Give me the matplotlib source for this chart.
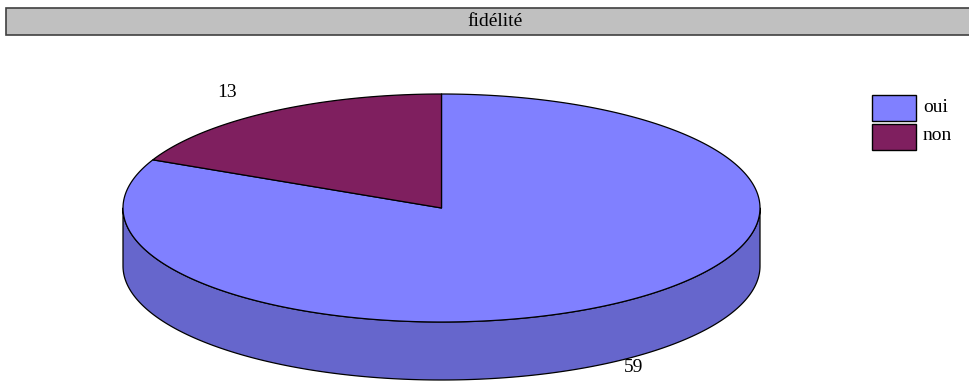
import numpy as np
import matplotlib
matplotlib.use("Agg")
import matplotlib.pyplot as plt
from matplotlib.patches import Polygon, Rectangle

title = "fidélité"
categories = ["oui", "non"]
values = [59, 13]
colors = ["#8080FF", "#7F1F5F"]
side_colors = ["#6666CC", "#5F174A"]

plt.rcParams['font.family'] = ['Liberation Serif', 'DejaVu Serif']

W, H = 970, 383
fig = plt.figure(figsize=(W/100, H/100), dpi=100)
ax = fig.add_axes([0, 0, 1, 1])
ax.set_xlim(0, W)
ax.set_ylim(H, 0)
ax.axis('off')

FS = 14

# title bar
ax.add_patch(Rectangle((6, 7.5), 970, 27.5, facecolor="#C0C0C0", edgecolor="#404040", lw=1.2))
ax.text(495.5, 21, title, ha='center', va='center', fontsize=FS)

cx, cy, rx, ry, depth = 441.5, 208, 318.5, 114, 58

def pt(a_deg, dz=0):
    a = np.deg2rad(a_deg)
    return cx + rx*np.cos(a), cy - ry*np.sin(a) + dz

total = sum(values)
spans = [v/total*360 for v in values]
starts = {1: 90.0, 0: 90.0 + spans[1]}

# side (front half only: angles 180..360)
for i in [0, 1]:
    a0 = starts[i]; a1 = a0 + spans[i]
    lo = max(a0, 180); hi = min(a1, 360)
    if hi > lo:
        aa = np.linspace(lo, hi, 200)
        top = [pt(a) for a in aa]
        bot = [pt(a, depth) for a in aa[::-1]]
        ax.add_patch(Polygon(top + bot, closed=True, facecolor=side_colors[i],
                             edgecolor='black', lw=0.9, joinstyle='round'))

# top slices
for i in [0, 1]:
    a0 = starts[i]; a1 = a0 + spans[i]
    aa = np.linspace(a0, a1, 300)
    verts = [(cx, cy)] + [pt(a) for a in aa]
    ax.add_patch(Polygon(verts, closed=True, facecolor=colors[i],
                         edgecolor='black', lw=0.9, joinstyle='round'))

# value labels
for i in [0, 1]:
    mid = starts[i] + spans[i]/2
    a = np.deg2rad(mid)
    up = np.sin(a) > 0
    kx = 1.255 if up else 1.12
    ky = 1.2 if up else 1.06
    x = cx + kx*rx*np.cos(a)
    y = cy - ky*ry*np.sin(a) + (0 if up else depth)
    ax.text(x, y, str(values[i]), ha='center', va='center', fontsize=FS)

# legend
for j, (lab, col) in enumerate(zip(categories, colors)):
    y0 = 95 + j*29
    ax.add_patch(Rectangle((872, y0), 44, 26, facecolor=col, edgecolor='black', lw=1))
    ax.text(923, y0 + 12, lab, ha='left', va='center', fontsize=FS)

fig.savefig("out.png", dpi=100)
